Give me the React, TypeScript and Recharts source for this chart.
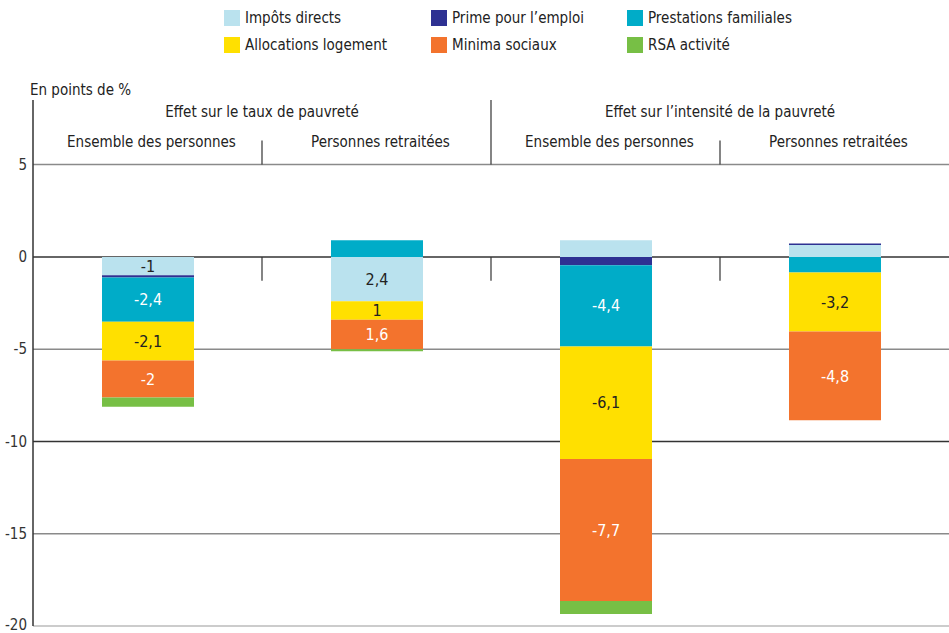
import { BarChart, Bar, XAxis, YAxis, CartesianGrid, ReferenceLine, LabelList } from 'recharts';

const categoryIds = ['c0', 'c1', 'c2', 'c3'];
const categories = ['Ensemble des personnes', 'Personnes retraitées', 'Ensemble des personnes', 'Personnes retraitées'];
const groups = ['Effet sur le taux de pauvreté', 'Effet sur l’intensité de la pauvreté'];
const yTicks = [5, 0, -5, -10, -15, -20];

// values as drawn (points de %)
const impots = [-1, -2.4, 0.9, 0.65];
const prime = [-0.12, 0, -0.45, 0.07];
const prestations = [-2.4, 0.9, -4.4, -0.85];
const allocations = [-2.1, -1, -6.1, -3.2];
const minima = [-2, -1.6, -7.7, -4.8];
const rsa = [-0.5, -0.12, -0.7, 0];

// labels printed inside segments
const impotsLabels = ['-1', '2,4', '', ''];
const prestationsLabels = ['-2,4', '', '-4,4', ''];
const allocationsLabels = ['-2,1', '1', '-6,1', '-3,2'];
const minimaLabels = ['-2', '1,6', '-7,7', '-4,8'];

const series = [
  { key: 'impots', name: 'Impôts directs', color: '#bae2ee', text: '#222' },
  { key: 'prime', name: 'Prime pour l’emploi', color: '#2e3192', text: '#fff' },
  { key: 'prestations', name: 'Prestations familiales', color: '#00acc8', text: '#fff' },
  { key: 'allocations', name: 'Allocations logement', color: '#ffe000', text: '#222' },
  { key: 'minima', name: 'Minima sociaux', color: '#f3732d', text: '#fff' },
  { key: 'rsa', name: 'RSA activité', color: '#77bf45', text: '#222' },
];
const labelled = ['impots', 'prestations', 'allocations', 'minima'];

const data = categoryIds.map((id, i) => ({
  id,
  cat: categories[i],
  impots: impots[i],
  prime: prime[i],
  prestations: prestations[i],
  allocations: allocations[i],
  minima: minima[i],
  rsa: rsa[i],
  impotsLbl: impotsLabels[i],
  prestationsLbl: prestationsLabels[i],
  allocationsLbl: allocationsLabels[i],
  minimaLbl: minimaLabels[i],
}));

const FONT = "'DejaVu Sans Condensed', 'DejaVu Sans', sans-serif";
const INK = '#222';

const CatTick = ({ x, y, index }: any) => (
  <text x={x + 4} y={y + 47} textAnchor="middle" fontSize={15} fill={INK}>{categories[index]}</text>
);

const sep = { stroke: '#333', strokeWidth: 1.2, position: 'start' as const };

export default function App() {
  return (
    <div style={{ position: 'absolute', left: 0, top: 0, width: 949, height: 633, background: '#fff', fontFamily: FONT }}>
      <div
        style={{
          position: 'absolute', left: 224, top: 10,
          display: 'grid', gridTemplateColumns: '207px 196px 200px', rowGap: 11,
          fontSize: 15, color: INK,
        }}
      >
        {series.map(s => (
          <div key={s.key} style={{ display: 'flex', alignItems: 'center', height: 16 }}>
            <span style={{ width: 16, height: 16, background: s.color, marginRight: 5, display: 'inline-block' }} />
            <span>{s.name}</span>
          </div>
        ))}
      </div>
      <div style={{ position: 'absolute', left: 30, top: 81, fontSize: 15, color: INK }}>En points de %</div>

      <BarChart
        width={949}
        height={633}
        data={data}
        stackOffset="sign"
        margin={{ top: 70, right: 0, bottom: 7, left: 0 }}
      >
        <CartesianGrid vertical={false} horizontalValues={[5, -5, -15]} stroke="#8a8a8a" strokeWidth={1.5} />
        <CartesianGrid vertical={false} horizontalValues={[0, -10]} stroke="#333" strokeWidth={1.5} />
        <CartesianGrid vertical={false} horizontalValues={[-20]} stroke="#bbb" strokeWidth={1.5} />
        <XAxis
          dataKey="id"
          orientation="top"
          height={30}
          axisLine={false}
          tickLine={false}
          tickSize={0}
          tickMargin={0}
          tick={<CatTick />}
          interval={0}
        />
        <YAxis
          width={33}
          domain={[-20, 8.5]}
          ticks={yTicks}
          allowDataOverflow
          tickLine={false}
          tickSize={0}
          tickMargin={6}
          axisLine={{ stroke: '#333', strokeWidth: 1.5 }}
          tick={{ fontSize: 15, fill: '#333' }}
        />
        <ReferenceLine segment={[{ x: 'c2', y: 8.5 }, { x: 'c2', y: 5 }]} {...sep} />
        <ReferenceLine
          segment={[{ x: 'c1', y: 6.3 }, { x: 'c1', y: 5 }]}
          {...sep}
          label={{ value: groups[0], position: 'top', offset: 24, fontSize: 15, fill: INK }}
        />
        <ReferenceLine
          segment={[{ x: 'c3', y: 6.3 }, { x: 'c3', y: 5 }]}
          {...sep}
          label={{ value: groups[1], position: 'top', offset: 24, fontSize: 15, fill: INK }}
        />
        <ReferenceLine segment={[{ x: 'c1', y: 0 }, { x: 'c1', y: -1.3 }]} {...sep} />
        <ReferenceLine segment={[{ x: 'c2', y: 0 }, { x: 'c2', y: -1.3 }]} {...sep} />
        <ReferenceLine segment={[{ x: 'c3', y: 0 }, { x: 'c3', y: -1.3 }]} {...sep} />
        {series.map(s => (
          <Bar key={s.key} dataKey={s.key} name={s.name} stackId="a" fill={s.color} barSize={92} isAnimationActive={false}>
            {labelled.includes(s.key) && (
              <LabelList dataKey={`${s.key}Lbl`} position="center" fill={s.text} fontSize={16} />
            )}
          </Bar>
        ))}
      </BarChart>
    </div>
  );
}
